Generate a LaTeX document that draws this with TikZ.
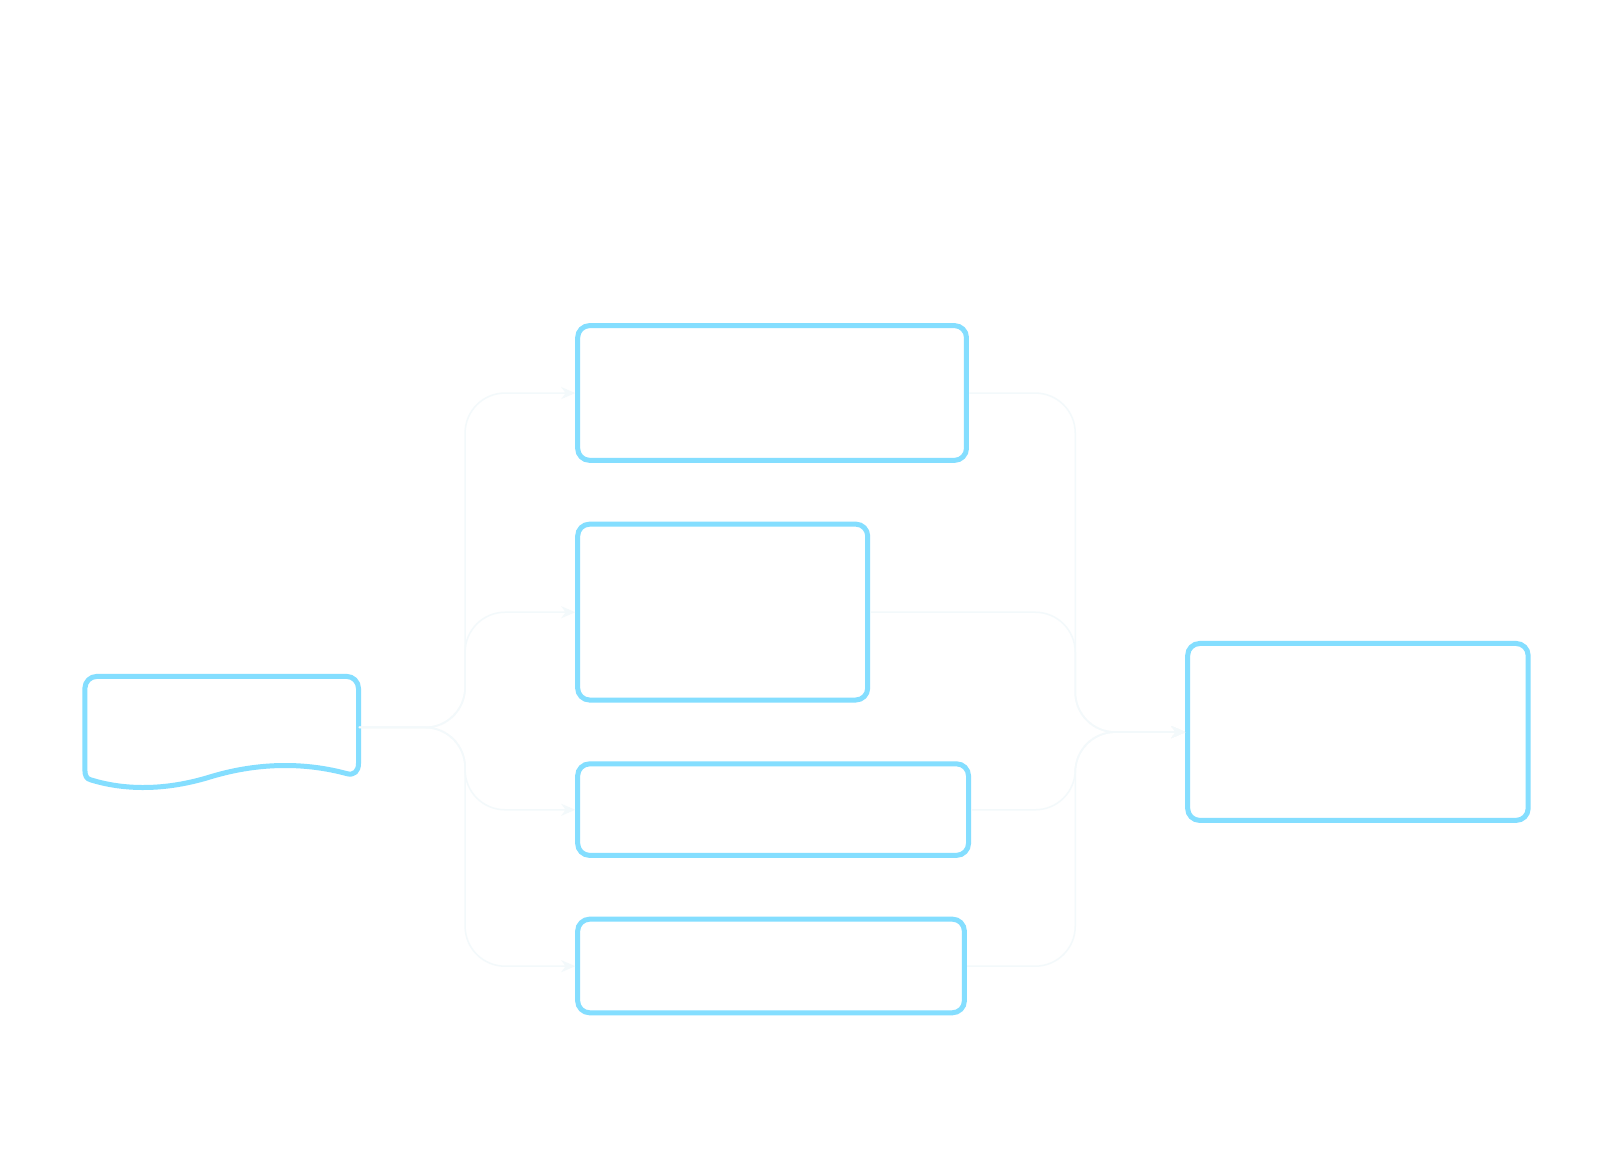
\documentclass[tikz,border=0pt]{standalone}
\usepackage{fontspec}
\setmainfont{Liberation Sans}
\usetikzlibrary{arrows.meta}

\definecolor{boxblue}{RGB}{132,222,255}
\definecolor{edgegray}{RGB}{243,249,251}

\begin{document}
\begin{tikzpicture}[x=1pt, y=-1pt, scale=1.0288,
  stepbox/.style={draw=boxblue, line width=5pt, rounded corners=12pt, text=white,
    align=center, inner sep=0pt, transform shape, font=\fontsize{28}{36}\selectfont},
  docbox/.style={text=white, align=center, inner sep=0pt, transform shape,
    font=\fontsize{28}{36}\selectfont},
  edge/.style={draw=edgegray, line width=1.5pt, rounded corners=40pt,
    -{Stealth[length=14pt, width=12pt]}}]
\def\titlefont{\fontsize{60}{70}\selectfont}
\useasboundingbox[fill=white] (0,0) rectangle (1567,1126.6);

% TITLE
\node[text=white, transform shape, font=\titlefont] (title) at (885,185) {Document Intake and Routing in Review Workflow};

% LEFT DOCUMENT
\node[docbox, minimum width=266, minimum height=100] (doc) at (215.5,707) {Source Documents};
\draw[draw=boxblue, line width=5pt, line join=round]
  (82.5,700) [rounded corners=12pt] -- (82.5,657.5) -- (348.5,657.5) -- (348.5,700)
  [sharp corners] -- (348.5,742) .. controls (348.5,750) and (344,754) .. (337,752)
  .. controls (300,742) and (255,740) .. (205,755)
  .. controls (160,769) and (120,768) .. (88,758)
  .. controls (84,757) and (82.5,754) .. (82.5,748) -- cycle;

% MIDDLE COLUMN
\node[stepbox, minimum width=378, minimum height=131] (extract) at (750.5,382) {Automated\\Data Extraction};
\node[stepbox, minimum width=282, minimum height=171] (review) at (702.5,595) {Assisted\\Review and\\Validation};
\node[stepbox, minimum width=380, minimum height=89] (manual) at (751.5,787) {Manual Exceptions};
\node[stepbox, minimum width=376, minimum height=91] (approve) at (749.5,939) {Final Approval};

% RIGHT RESULT
\node[stepbox, minimum width=331, minimum height=172] (records) at (1320,711.5) {Processed\\Records and Audit\\Trail Output};

% CONNECTORS
\coordinate (fork) at (452,707);
\coordinate (join) at (1045,711.5);
\foreach \b in {extract,review,manual,approve}
  \draw[edge] (doc.east) -- (fork) |- (\b.west);
\foreach \b in {extract,review,manual,approve}
  \draw[edge] (\b.east) -| (join) -- (records.west);
\end{tikzpicture}
\end{document}
